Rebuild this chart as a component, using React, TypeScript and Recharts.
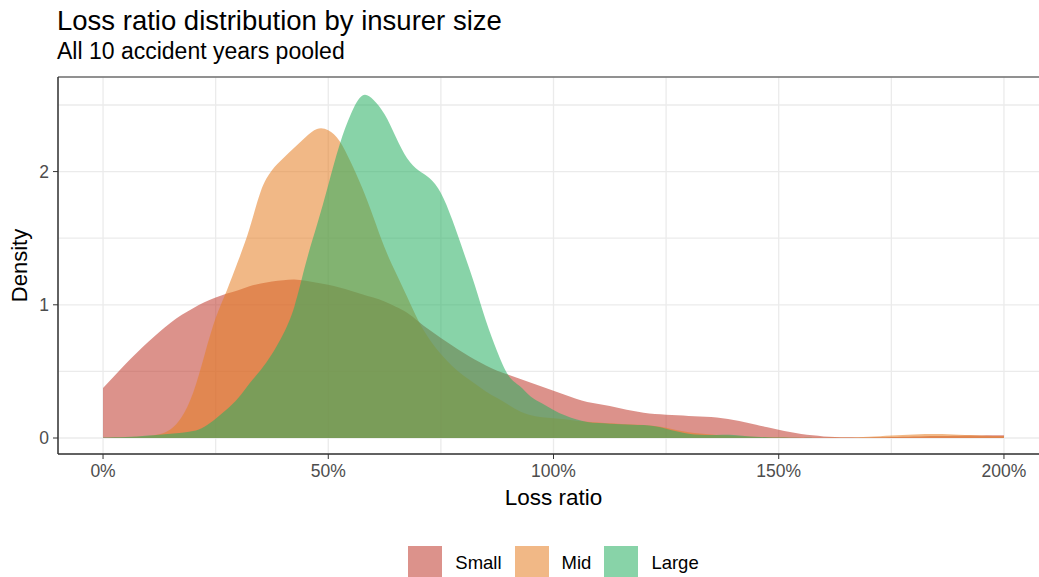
import React from 'react';
import { ComposedChart, Area, XAxis, YAxis, CartesianGrid, ReferenceArea } from 'recharts';

const lossRatio = [
  0, 2.5, 5, 7.5, 10, 12.5, 15, 17.5, 20, 22.5, 25, 27.5, 30, 32.5, 35, 37.5, 40, 42.5, 45, 47.5,
  50, 52.5, 55, 57.5, 60, 62.5, 65, 67.5, 70, 72.5, 75, 77.5, 80, 82.5, 85, 87.5, 90, 92.5, 95, 97.5,
  100, 102.5, 105, 107.5, 110, 112.5, 115, 117.5, 120, 122.5, 125, 127.5, 130, 132.5, 135, 137.5, 140, 142.5, 145, 147.5,
  150, 152.5, 155, 157.5, 160, 162.5, 165, 167.5, 170, 172.5, 175, 177.5, 180, 182.5, 185, 187.5, 190, 192.5, 195, 197.5, 200,
];

const smallDensity = [
  0.375, 0.465, 0.555, 0.64, 0.72, 0.795, 0.865, 0.925, 0.975, 1.02, 1.055, 1.085, 1.11, 1.14, 1.16, 1.175, 1.185, 1.19, 1.18, 1.165,
  1.15, 1.13, 1.105, 1.08, 1.055, 1.025, 0.985, 0.94, 0.875, 0.81, 0.75, 0.695, 0.64, 0.59, 0.545, 0.505, 0.475, 0.445, 0.415, 0.385,
  0.355, 0.325, 0.295, 0.27, 0.255, 0.24, 0.222, 0.205, 0.19, 0.18, 0.175, 0.17, 0.166, 0.162, 0.157, 0.148, 0.135, 0.118, 0.1, 0.08,
  0.062, 0.045, 0.031, 0.02, 0.012, 0.008, 0.005, 0.004, 0.004, 0.005, 0.007, 0.009, 0.011, 0.013, 0.015, 0.016, 0.017, 0.018, 0.019, 0.02, 0.02,
];

const midDensity = [
  0, 0.003, 0.006, 0.01, 0.016, 0.028, 0.065, 0.16, 0.34, 0.62, 0.9, 1.11, 1.33, 1.57, 1.85, 2.01, 2.1, 2.18, 2.26, 2.32,
  2.31, 2.23, 2.07, 1.88, 1.66, 1.43, 1.24, 1.06, 0.88, 0.74, 0.63, 0.54, 0.47, 0.41, 0.35, 0.3, 0.25, 0.2, 0.17, 0.155,
  0.148, 0.14, 0.13, 0.122, 0.116, 0.11, 0.106, 0.102, 0.098, 0.09, 0.077, 0.058, 0.043, 0.033, 0.026, 0.02, 0.015, 0.011, 0.008, 0.005,
  0.003, 0.002, 0.002, 0.002, 0.002, 0.003, 0.004, 0.006, 0.009, 0.013, 0.018, 0.023, 0.027, 0.03, 0.03, 0.028, 0.025, 0.022, 0.019, 0.016, 0.015,
];

const largeDensity = [
  0.003, 0.005, 0.008, 0.012, 0.018, 0.025, 0.032, 0.04, 0.052, 0.085, 0.145, 0.215, 0.3, 0.41, 0.51, 0.63, 0.78, 0.99, 1.31, 1.6,
  1.9, 2.2, 2.43, 2.57, 2.54, 2.43, 2.26, 2.1, 2.01, 1.95, 1.84, 1.64, 1.4, 1.15, 0.88, 0.65, 0.47, 0.39, 0.31, 0.26,
  0.21, 0.17, 0.14, 0.12, 0.112, 0.108, 0.104, 0.1, 0.097, 0.088, 0.07, 0.048, 0.032, 0.024, 0.022, 0.024, 0.022, 0.015, 0.009, 0.005,
  0.003, 0.002, 0.001, 0.001, 0, 0, 0, 0, 0, 0, 0, 0, 0, 0, 0, 0, 0, 0, 0, 0, 0,
];

const seriesNames = ['Small', 'Mid', 'Large'];
const seriesColors = ['#C0392B', '#E67E22', '#27AE60'];
const seriesValues = [smallDensity, midDensity, largeDensity];

const xTicks = [0, 50, 100, 150, 200];
const xGridTicks = [0, 25, 50, 75, 100, 125, 150, 175, 200];
const yTicks = [0, 1, 2];
const yGridTicks = [0, 0.5, 1, 1.5, 2, 2.5];

const titleText = 'Loss ratio distribution by insurer size';
const subtitleText = 'All 10 accident years pooled';
const xTitle = 'Loss ratio';
const yTitle = 'Density';

const data = lossRatio.map((x, i) => {
  const row: Record<string, number> = { x };
  seriesNames.forEach((name, k) => {
    row[name] = seriesValues[k][i];
  });
  return row;
});

const FONT = '"Liberation Sans", Arial, Helvetica, sans-serif';
const X_DOMAIN: [number, number] = [-10, 210];
const Y_DOMAIN: [number, number] = [-0.12, 2.71];
const ALPHA = 0.55;

function hexToRgba(hex: string, a: number) {
  const r = parseInt(hex.slice(1, 3), 16);
  const g = parseInt(hex.slice(3, 5), 16);
  const b = parseInt(hex.slice(5, 7), 16);
  return `rgba(${r},${g},${b},${a})`;
}

const XLabel = (props: any) => {
  const vb = props.viewBox || {};
  return (
    <text x={vb.x + vb.width / 2} y={vb.y + 51} textAnchor="middle" fontSize={22.5} fontFamily={FONT} fill="#000">
      {xTitle}
    </text>
  );
};

const YLabel = (props: any) => {
  const vb = props.viewBox || {};
  const cx = 26.5;
  const cy = vb.y + vb.height / 2;
  return (
    <text x={cx} y={cy} transform={`rotate(-90, ${cx}, ${cy})`} textAnchor="middle" fontSize={22} fontFamily={FONT} fill="#000">
      {yTitle}
    </text>
  );
};

export default function App() {
  return (
    <div style={{ position: 'absolute', left: 0, top: 0, width: 1039, height: 577, overflow: 'hidden', background: '#fff' }}>
      <svg style={{ position: 'absolute', left: 0, top: 0 }} width={1039} height={70}>
        <text x={57} y={30} fontSize={27.5} fontFamily={FONT} fill="#000">{titleText}</text>
        <text x={57} y={59} fontSize={23} fontFamily={FONT} fill="#000">{subtitleText}</text>
      </svg>
      <div style={{ position: 'absolute', left: 0, top: 0 }}>
        <ComposedChart width={1060} height={577} data={data} margin={{ top: 77, right: 11, bottom: 73, left: 0 }}>
          <XAxis xAxisId="grid" dataKey="x" type="number" domain={X_DOMAIN} ticks={xGridTicks} allowDataOverflow hide />
          <YAxis yAxisId="grid" type="number" domain={Y_DOMAIN} ticks={yGridTicks} allowDataOverflow hide />
          <CartesianGrid xAxisId="grid" yAxisId="grid" stroke="#EBEBEB" strokeWidth={1.3} />
          <XAxis
            dataKey="x"
            type="number"
            domain={X_DOMAIN}
            ticks={xTicks}
            allowDataOverflow
            height={50}
            tickSize={5}
            tickMargin={6}
            tickFormatter={(v: number) => `${v}%`}
            axisLine={{ stroke: '#333333' }}
            tickLine={{ stroke: '#333333' }}
            tick={{ fill: '#4D4D4D', fontSize: 17.5, fontFamily: FONT }}
            label={<XLabel />}
          />
          <YAxis
            type="number"
            domain={Y_DOMAIN}
            ticks={yTicks}
            allowDataOverflow
            width={58}
            tickSize={5}
            tickMargin={4}
            axisLine={{ stroke: '#333333' }}
            tickLine={{ stroke: '#333333' }}
            tick={{ fill: '#4D4D4D', fontSize: 17.5, fontFamily: FONT }}
            label={<YLabel />}
          />
          {seriesNames.map((name, k) => (
            <Area
              key={name}
              dataKey={name}
              type="natural"
              baseValue={0}
              fill={seriesColors[k]}
              fillOpacity={ALPHA}
              stroke="none"
              dot={false}
              activeDot={false}
              isAnimationActive={false}
            />
          ))}
          <ReferenceArea x1={X_DOMAIN[0]} x2={X_DOMAIN[1]} y1={Y_DOMAIN[0]} y2={Y_DOMAIN[1]} fill="none" stroke="#333333" strokeWidth={1} ifOverflow="visible" />
        </ComposedChart>
      </div>
      <div
        style={{
          position: 'absolute', left: 0, top: 546, width: 1107, height: 34,
          display: 'flex', justifyContent: 'center', alignItems: 'center', fontFamily: FONT, fontSize: 18.5, color: '#000',
        }}
      >
        {seriesNames.map((name, k) => (
          <div key={name} style={{ display: 'flex', alignItems: 'center', marginRight: k < seriesNames.length - 1 ? 13 : 0 }}>
            <div style={{ width: 34, height: 34, background: hexToRgba(seriesColors[k], ALPHA) }} />
            <span style={{ marginLeft: 13 }}>{name}</span>
          </div>
        ))}
      </div>
    </div>
  );
}
